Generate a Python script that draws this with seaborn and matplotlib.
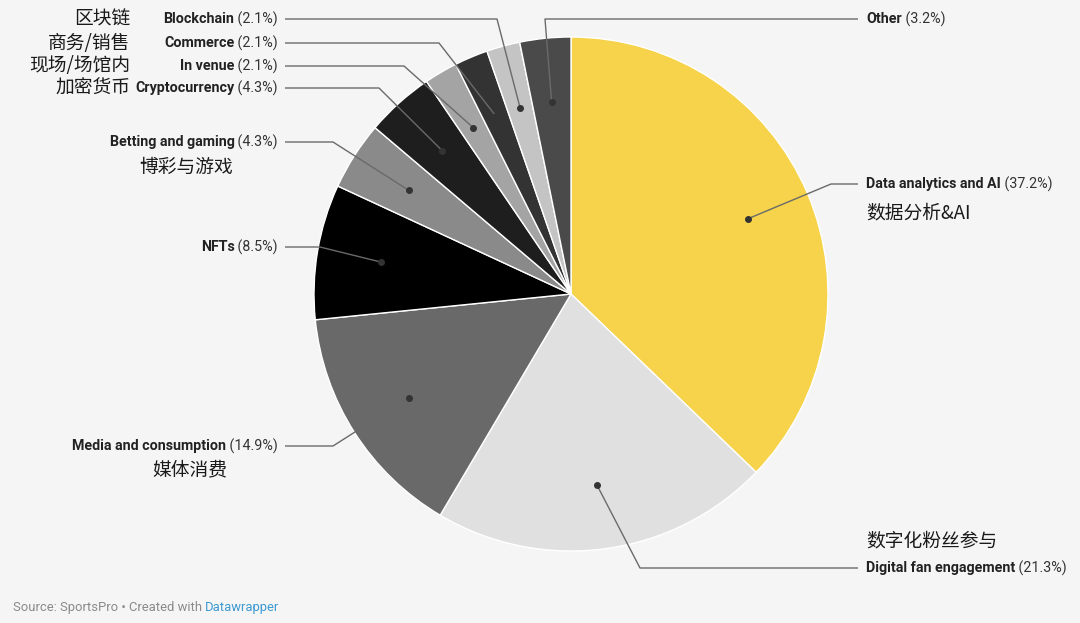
import numpy as np
import matplotlib
matplotlib.use("Agg")
import matplotlib.pyplot as plt
import seaborn as sns

# data, clockwise from 12 o'clock
categories = ["Data analytics and AI", "Digital fan engagement", "Media and consumption",
              "NFTs", "Betting and gaming", "Cryptocurrency", "In venue", "Commerce",
              "Blockchain", "Other"]
shares = [37.2, 21.3, 14.9, 8.5, 4.3, 4.3, 2.1, 2.1, 2.1, 3.2]
chinese = ["数据分析&AI", "数字化粉丝参与", "媒体消费", "", "博彩与游戏", "加密货币",
           "现场/场馆内", "商务/销售", "区块链", ""]
colors = ["#f6d34a", "#e0e0e0", "#696969", "#000000", "#8a8a8a", "#1e1e1e",
          "#a4a4a4", "#333333", "#c4c4c4", "#4a4a4a"]

W, H = 1080, 623
BG = "#f5f5f5"

sns.set_theme(style="white")
plt.rcParams["font.family"] = ["Roboto", "Noto Sans CJK SC", "DejaVu Sans"]

fig = plt.figure(figsize=(W / 100, H / 100), dpi=100, facecolor=BG)
ax = fig.add_axes([0, 0, 1, 1])
ax.set_facecolor(BG)


def Y(y):
    return H - y


cx, cy, rad = 571, Y(294), 257
wedges, _ = ax.pie(shares, colors=colors, startangle=90, counterclock=False,
                   center=(cx, cy), radius=rad,
                   wedgeprops=dict(edgecolor="white", linewidth=1.0))
ax.set_xlim(0, W)
ax.set_ylim(0, H)
ax.set_aspect("equal")
ax.axis("off")

# label layout: side, label row (px from top), elbow x
layout = {
    "Data analytics and AI": ("right", 184, 831),
    "Digital fan engagement": ("right", 568, 640),
    "Media and consumption": ("left", 446, 333),
    "NFTs": ("left", 247, 320),
    "Betting and gaming": ("left", 142, 333),
    "Cryptocurrency": ("left", 88, 379),
    "In venue": ("left", 66, 404),
    "Commerce": ("left", 43, 439),
    "Blockchain": ("left", 19, 497),
    "Other": ("right", 19, 545),
}
cn_pos = {
    "Data analytics and AI": (866, 213, "left"),
    "Digital fan engagement": (866, 541, "left"),
    "Media and consumption": (190, 470, "center"),
    "Betting and gaming": (186, 167, "center"),
    "Cryptocurrency": (130, 88, "right"),
    "In venue": (130, 66, "right"),
    "Commerce": (130, 43, "right"),
    "Blockchain": (130, 19, "right"),
}

fig.canvas.draw()
renderer = fig.canvas.get_renderer()
fs = 10.3

for w, name, share, cn in zip(wedges, categories, shares, chinese):
    mid = np.deg2rad((w.theta1 + w.theta2) / 2)
    dx = cx + 0.75 * rad * np.cos(mid)
    dy = cy + 0.75 * rad * np.sin(mid)
    side, ly, ex = layout[name]
    if side == "right":
        lx_text, lx_line = 866, 858
    else:
        lx_text, lx_line = 278, 285
    ax.plot([dx, ex, lx_line], [dy, Y(ly), Y(ly)], color="#6a6a6a", lw=1.0,
            solid_capstyle="butt", zorder=3)
    ax.plot(dx, dy, "o", color="#333333", ms=4, zorder=4)

    pct = f" ({share}%)"
    if side == "right":
        t = ax.text(lx_text, Y(ly), name, ha="left", va="center", fontsize=fs,
                    fontweight="bold", color="#222222")
        bb = t.get_window_extent(renderer)
        ax.text(lx_text + bb.width, Y(ly), pct, ha="left", va="center",
                fontsize=fs, color="#333333")
    else:
        t = ax.text(lx_text, Y(ly), pct, ha="right", va="center", fontsize=fs,
                    color="#333333")
        bb = t.get_window_extent(renderer)
        ax.text(lx_text - bb.width, Y(ly), name, ha="right", va="center",
                fontsize=fs, fontweight="bold", color="#222222")

    if cn:
        px, py, ha = cn_pos[name]
        ax.text(px, Y(py), cn, ha=ha, va="center", fontsize=13.5,
                family=["Noto Sans CJK SC", "DejaVu Sans"], color="#1a1a1a")

src = ax.text(13, Y(607), "Source: SportsPro • Created with ", ha="left", va="center",
              fontsize=9.4, color="#8a8a8a")
bb = src.get_window_extent(renderer)
ax.text(13 + bb.width, Y(607), "Datawrapper", ha="left", va="center",
        fontsize=9.4, color="#3d9ad1")

fig.savefig("out.png", dpi=100, facecolor=BG)
